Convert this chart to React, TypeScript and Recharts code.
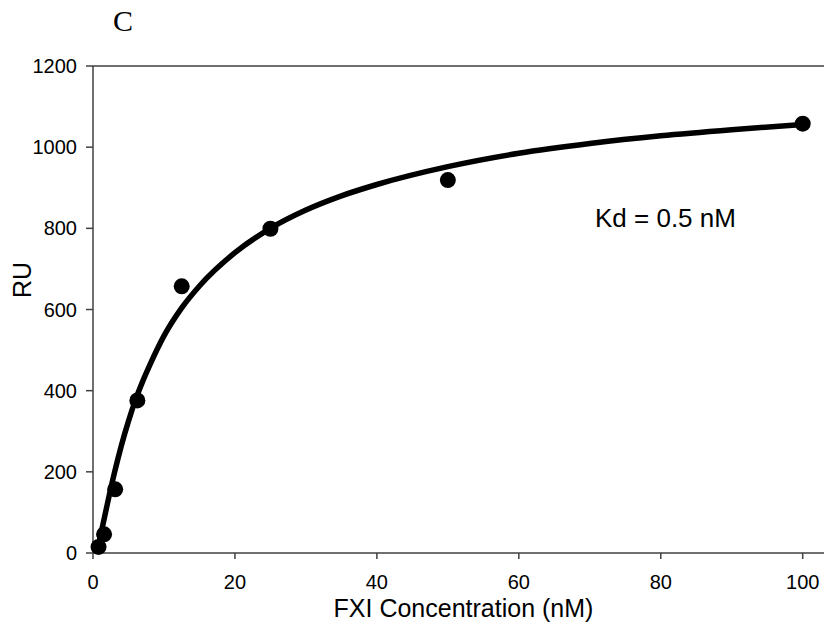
import { ComposedChart, Line, Scatter, XAxis, YAxis, ReferenceLine } from 'recharts'

// measured binding points (FXI concentration, nM -> response, RU)
const concNM = [0.78, 1.56, 3.125, 6.25, 12.5, 25, 50, 100]
const responseRU = [15, 46, 157, 376, 657, 799, 919, 1058]

// fitted curve
const fitConc = [0.5, 1, 2, 3, 4, 5, 6, 7, 8, 10, 12.5, 15, 20, 25, 30, 35, 40, 50, 60, 70, 80, 90, 100]
const fitRU = [0, 38, 119, 196, 265, 325, 378, 423, 463, 535, 604, 658, 740, 800, 845, 880, 908, 952, 985, 1009, 1028, 1043, 1056]

const xTicks = [0, 20, 40, 60, 80, 100]
const yTicks = [0, 200, 400, 600, 800, 1000, 1200]

const points = concNM.map((x, i) => ({ x, y: responseRU[i] }))
const curve = fitConc.map((x, i) => ({ x, y: fitRU[i] }))

const FONT = '"Liberation Sans", Arial, sans-serif'
const AXIS = '#404040'

function Dot(props: any) {
  return <circle cx={props.cx} cy={props.cy} r={8} fill="#000" />
}

export default function App() {
  return (
    <div style={{ position: 'absolute', left: 0, top: 0, width: 827, height: 622, background: '#fff' }}>
      <ComposedChart width={827} height={622} margin={{ top: 66, right: 3, left: 0, bottom: 0 }}>
        <XAxis
          dataKey="x"
          type="number"
          domain={[0, 103]}
          ticks={xTicks}
          height={69}
          tickSize={6}
          tickMargin={16}
          stroke={AXIS}
          strokeWidth={1.5}
          tick={{ fontSize: 20, fill: '#000', fontFamily: FONT }}
          label={{ value: 'FXI Concentration (nM)', position: 'insideBottom', offset: 5, dx: 5, fontSize: 25, fill: '#000', fontFamily: FONT }}
        />
        <YAxis
          dataKey="y"
          type="number"
          domain={[0, 1200]}
          ticks={yTicks}
          width={93}
          tickSize={7}
          tickMargin={9}
          stroke={AXIS}
          strokeWidth={1.5}
          tick={{ fontSize: 20, fill: '#000', fontFamily: FONT }}
        />
        <ReferenceLine y={1200} stroke={AXIS} strokeWidth={1.5} />
        <Line
          data={curve}
          dataKey="y"
          type="monotone"
          stroke="#000"
          strokeWidth={5.5}
          dot={false}
          activeDot={false}
          isAnimationActive={false}
        />
        <Scatter data={points} dataKey="y" fill="#000" shape={Dot} isAnimationActive={false} />
      </ComposedChart>
      <svg width={827} height={622} style={{ position: 'absolute', left: 0, top: 0, pointerEvents: 'none' }}>
        <text x={113} y={31} fontFamily='"Liberation Serif", "Times New Roman", serif' fontSize={30} fill="#000">C</text>
        <text x={31} y={280} transform="rotate(-90 31 280)" textAnchor="middle" fontFamily={FONT} fontSize={25} fill="#000">RU</text>
        <text x={595} y={227} fontFamily={FONT} fontSize={26} fill="#000">Kd = 0.5 nM</text>
      </svg>
    </div>
  )
}
